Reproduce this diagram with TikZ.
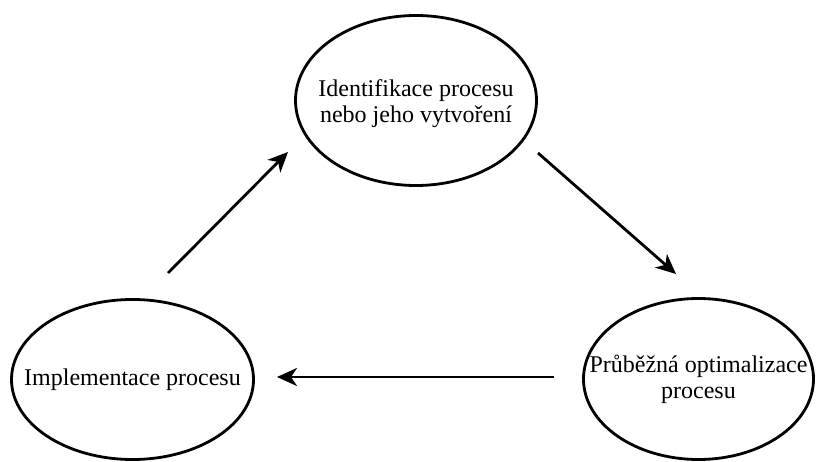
\documentclass[tikz,border=0pt]{standalone}
\usepackage{fontspec}
\setmainfont{Liberation Serif}
\usetikzlibrary{shapes.geometric,arrows.meta}
\begin{document}
\begin{tikzpicture}[x=1pt,y=-1pt,
  stage/.style={ellipse,draw,line width=2.8pt,inner sep=0pt,outer sep=0pt},
  stagetext/.style={align=center,font=\fontsize{24}{26}\selectfont,inner sep=0pt},
  flow/.style={line width=2.8pt,-{Stealth[length=20pt,width=18pt,inset=6pt]}}]
  \useasboundingbox (0,0) rectangle (817,462);
  % three stages of the cycle
  \node[stage,minimum width=241pt,minimum height=170pt,
    label={[stagetext,yshift=-3pt]center:Identifikace procesu\\nebo jeho vytvoření}]
    (ident) at (416,100.5) {};
  \node[stage,minimum width=242pt,minimum height=160pt,
    label={[stagetext]center:Implementace procesu}]
    (impl) at (132.5,379.5) {};
  \node[stage,minimum width=230pt,minimum height=161pt,
    label={[stagetext]center:Průběžná optimalizace\\procesu}]
    (optim) at (698.5,379) {};
  % free-standing arrow ends
  \coordinate (a1s) at (168,273);
  \coordinate (a1e) at (288,152);
  \coordinate (a2s) at (538,153);
  \coordinate (a2e) at (676,274);
  \coordinate (a3s) at (554,377);
  \coordinate (a3e) at (277,377);
  \draw[flow] (a1s) -- (a1e);
  \draw[flow] (a2s) -- (a2e);
  \draw[flow] (a3s) -- (a3e);
\end{tikzpicture}
\end{document}
